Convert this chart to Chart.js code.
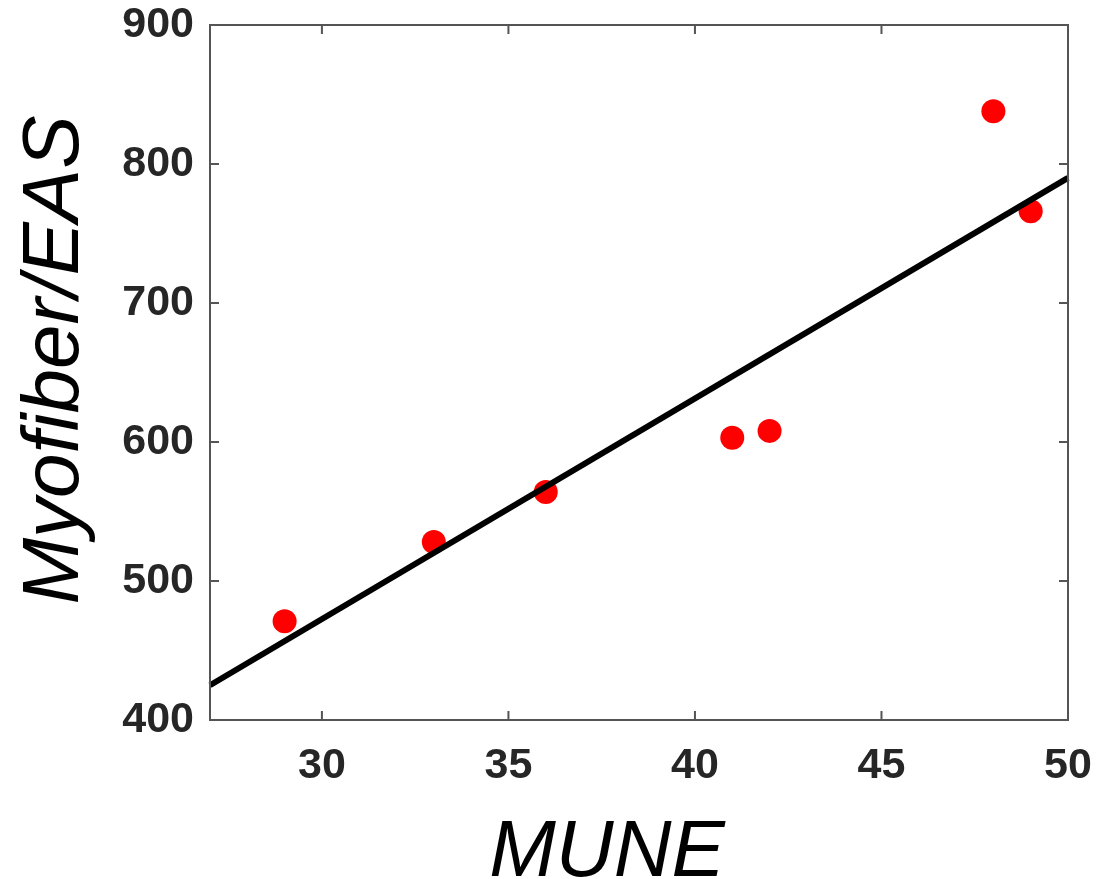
<!DOCTYPE html>
<html>
<head>
<meta charset="utf-8">
<script src="https://cdn.jsdelivr.net/npm/chart.js@4/dist/chart.umd.min.js"></script>
<style>
  html, body { margin: 0; padding: 0; background: #fff; }
  #wrap { width: 1103px; height: 879px; }
</style>
</head>
<body>
<div id="wrap"><canvas id="plot" width="1103" height="879"></canvas></div>
<script>
// data
var mune = [29, 33, 36, 41, 42, 48, 49];
var myofiber = [471, 528, 564, 603, 608, 838, 766];
var fitX = [27, 50];
var fitY = [425, 790];
var xTicks = [30, 35, 40, 45, 50];
var yTicks = [400, 500, 600, 700, 800, 900];

var tickFont = { family: "'Liberation Sans', Arial, sans-serif", size: 43, weight: "bold" };
var titleFont = "italic 80px 'Liberation Sans', Arial, sans-serif";

// box round the plot + inward ticks on all four sides, then axis titles
var framePlugin = {
  id: "frame",
  afterDatasetsDraw: function (chart) {
    var c = chart.ctx, a = chart.chartArea;
    var xs = chart.scales.x, ys = chart.scales.y;
    c.save();
    c.strokeStyle = "#555";
    c.lineWidth = 2;
    c.strokeRect(a.left, a.top, a.right - a.left, a.bottom - a.top);
    c.beginPath();
    xTicks.forEach(function (v) {
      var px = xs.getPixelForValue(v);
      c.moveTo(px, a.bottom); c.lineTo(px, a.bottom - 9);
      c.moveTo(px, a.top); c.lineTo(px, a.top + 9);
    });
    yTicks.forEach(function (v) {
      var py = ys.getPixelForValue(v);
      c.moveTo(a.left, py); c.lineTo(a.left + 9, py);
      c.moveTo(a.right, py); c.lineTo(a.right - 9, py);
    });
    c.stroke();

    c.fillStyle = "#000";
    c.font = titleFont;
    c.textAlign = "center";
    c.textBaseline = "alphabetic";
    c.fillText("MUNE", 607, 876);
    c.translate(78, 360);
    c.rotate(-Math.PI / 2);
    c.fillText("Myofiber/EAS", 0, 0);
    c.restore();
  }
};

function noOverflow(s) {
  s.paddingTop = 0; s.paddingBottom = 0; s.paddingLeft = 0; s.paddingRight = 0;
}

new Chart(document.getElementById("plot"), {
  type: "scatter",
  data: {
    datasets: [
      {
        label: "fit",
        type: "line",
        data: fitX.map(function (x, i) { return { x: x, y: fitY[i] }; }),
        borderColor: "#000",
        borderWidth: 6,
        pointRadius: 0,
        fill: false
      },
      {
        label: "samples",
        data: mune.map(function (x, i) { return { x: x, y: myofiber[i] }; }),
        backgroundColor: "#ff0000",
        borderWidth: 0,
        pointRadius: 12
      }
    ]
  },
  options: {
    responsive: false,
    animation: false,
    clip: false,
    layout: { padding: { top: 25, right: 35, left: 0, bottom: 0 } },
    plugins: { legend: { display: false }, tooltip: { enabled: false } },
    scales: {
      x: {
        type: "linear",
        min: 27,
        max: 50,
        afterBuildTicks: function (s) { s.ticks = xTicks.map(function (v) { return { value: v }; }); },
        afterFit: function (s) { s.height = 159; noOverflow(s); },
        grid: { display: false, drawTicks: false },
        border: { display: false },
        ticks: { font: tickFont, color: "#262626", padding: 20, maxRotation: 0 }
      },
      y: {
        min: 400,
        max: 900,
        afterBuildTicks: function (s) { s.ticks = yTicks.map(function (v) { return { value: v }; }); },
        afterFit: function (s) { s.width = 210; noOverflow(s); },
        grid: { display: false, drawTicks: false },
        border: { display: false },
        ticks: { font: tickFont, color: "#262626", padding: 16 }
      }
    }
  },
  plugins: [framePlugin]
});
</script>
</body>
</html>
